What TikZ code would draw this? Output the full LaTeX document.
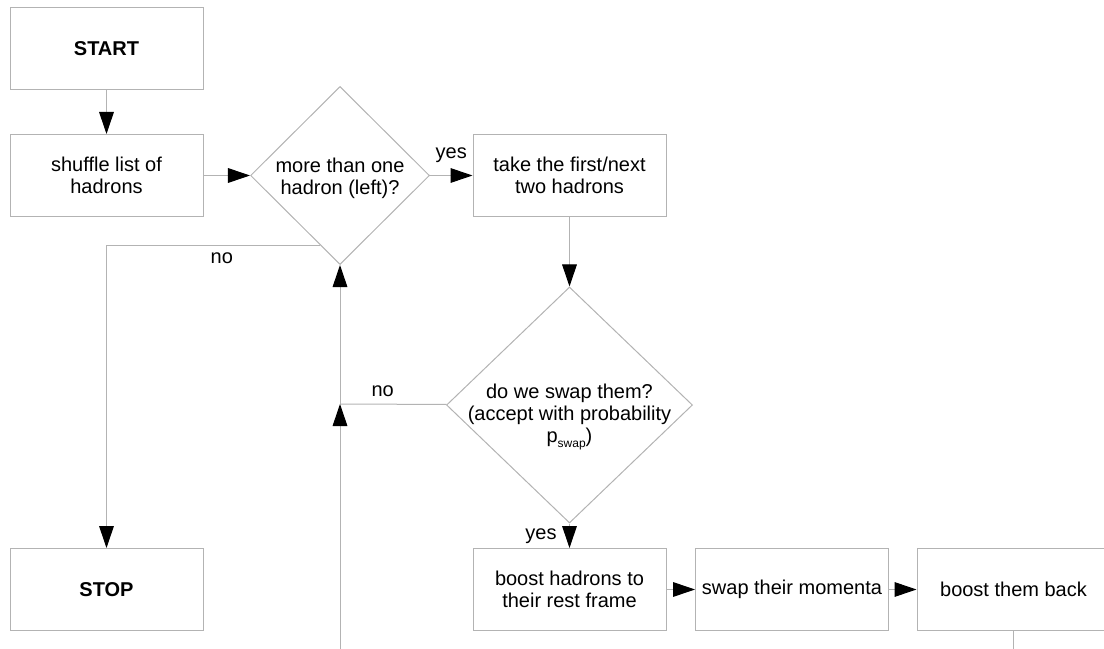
\documentclass[tikz,border=0pt]{standalone}
\usepackage{fontspec}
\setmainfont{Liberation Sans}
\usetikzlibrary{shapes.geometric,arrows.meta,positioning}
\definecolor{linegray}{RGB}{179,179,179}

\begin{document}
\begin{tikzpicture}[x=0.75pt, y=-0.75pt, font=\fontsize{15}{16.5}\selectfont]
    \tikzstyle{box}=[rectangle, draw=linegray, line width=0.75pt, minimum width=144.75pt, minimum height=61.5pt, align=center, inner sep=0pt]
    \tikzstyle{decision}=[diamond, draw=linegray, line width=0.75pt, inner sep=0pt]
    \tikzstyle{line}=[draw=linegray, line width=0.75pt]
    \tikzstyle{flow}=[line, -{Triangle[length=16.5pt, width=11pt, color=black]}]
    \useasboundingbox (0,0) rectangle (1104,649);
    \clip (0,0) rectangle (1104,649);
    % boxes
    \node[box] (start) at (106.5,49) {\textbf{START}};
    \node[box] (shuffle) at (106.5,175.5) {shuffle list of\\hadrons};
    \node[box] (take) at (569.5,175.5) {take the first/next\\two hadrons};
    \node[box] (stop) at (106.5,589.5) {\textbf{STOP}};
    \node[box] (boost) at (569.5,589.5) {boost hadrons to\\their rest frame};
    \node[box] (momenta) at (792,589.5) {swap their momenta};
    \node[box] (back) at (1013.5,589.5) {boost them back};
    % decisions
    \node[decision, minimum width=134.25pt, minimum height=133.5pt,
          label={[align=center, yshift=-2pt]center:more than one\\hadron (left)?}] (more) at (340,175.5) {};
    \node[decision, minimum width=184.5pt, minimum height=177pt,
          label={[align=center, yshift=-9pt]center:do we swap them?\\(accept with probability\\p\raisebox{-4pt}{\fontsize{9}{9}\selectfont swap})}] (swapq) at (569.5,405) {};
    \coordinate (join) at (340,404);
    \coordinate (low) at (340,690);
    % connectors
    \draw[flow] (start) -- (shuffle);
    \draw[flow] (shuffle) -- (more);
    \draw[flow] (more) -- node[above=6pt] {yes} (take);
    \draw[flow] (take) -- (swapq);
    \draw[flow] (swapq) -- node[left=6pt] {yes} (boost);
    \draw[flow] (boost) -- (momenta);
    \draw[flow] (momenta) -- (back);
    \draw[flow] (more.-106) -| node[below=2pt, pos=0.23] {no} (stop);
    \draw[line] (swapq) -- node[above=2pt, pos=0.6] {no} (join);
    \draw[line] (back) |- (low);
    \draw[flow] (low) -- (join);
    \draw[flow] (join) -- (more);
\end{tikzpicture}
\end{document}
